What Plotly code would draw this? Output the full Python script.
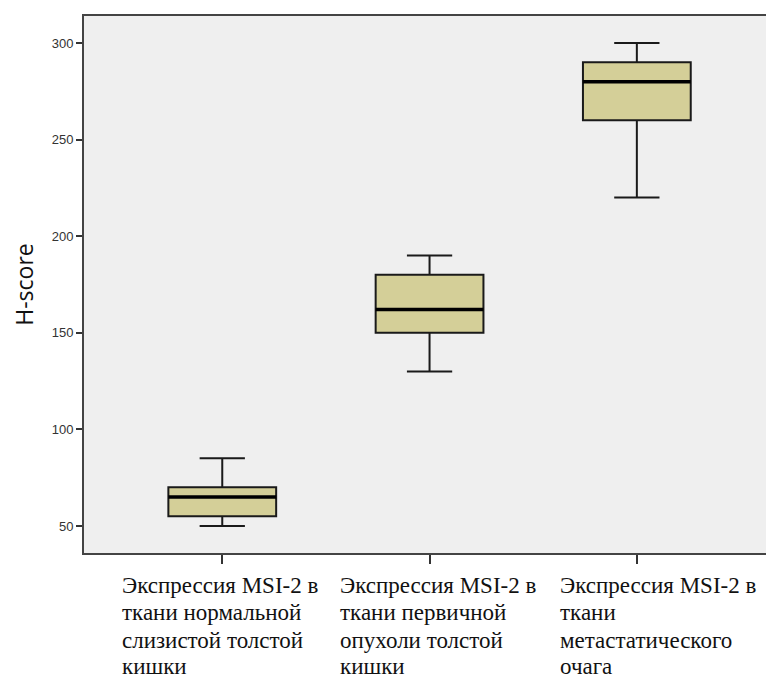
import plotly.graph_objects as go

# Data
categories = [0, 1, 2]
label_lines = [
    ["Экспрессия MSI-2 в", "ткани нормальной", "слизистой толстой", "кишки"],
    ["Экспрессия MSI-2 в", "ткани первичной", "опухоли толстой", "кишки"],
    ["Экспрессия MSI-2 в", "ткани", "метастатического", "очага"],
]
lower_fence = [50, 130, 220]
q1 = [55, 150, 260]
median = [65, 162, 280]
q3 = [70, 180, 290]
upper_fence = [85, 190, 300]
y_ticks = [50, 100, 150, 200, 250, 300]

BOX_W = 0.52
fig = go.Figure()
fig.add_trace(go.Box(
    x=categories, q1=q1, median=median, q3=q3,
    lowerfence=lower_fence, upperfence=upper_fence,
    width=BOX_W, whiskerwidth=0.42,
    fillcolor="#D4CF98",
    line=dict(color="#1a1a1a", width=2),
    boxpoints=False, hoverinfo="skip", showlegend=False,
))
# thicker median lines
for c, m in zip(categories, median):
    fig.add_trace(go.Scatter(
        x=[c - BOX_W / 2, c + BOX_W / 2], y=[m, m], mode="lines",
        line=dict(color="#000000", width=3.5), hoverinfo="skip", showlegend=False,
    ))

# category labels as left-aligned multi-line text
PLOT_BOTTOM, PLOT_H = 545, 537
label_x = [0.052, 0.369, 0.689]
line_tops = [563, 590, 618, 644]
for lx, lines in zip(label_x, label_lines):
    for i, t in enumerate(lines):
        fig.add_annotation(
            text=t, x=lx, xref="paper", xanchor="left",
            y=(PLOT_BOTTOM - line_tops[i]) / PLOT_H, yref="paper", yanchor="top",
            showarrow=False, font=dict(family="Liberation Serif", size=23, color="#111111"),
        )

fig.update_layout(
    width=766, height=670,
    margin=dict(l=76, r=2, t=8, b=125),
    paper_bgcolor="white", plot_bgcolor="#EFEFEF",
    xaxis=dict(
        range=[-0.667, 2.652], tickvals=categories, ticktext=["", "", ""],
        showgrid=False, zeroline=False,
        showline=True, linecolor="#444444", linewidth=2, mirror=True,
        ticks="outside", ticklen=9, tickwidth=2, tickcolor="#333333",
    ),
    yaxis=dict(
        range=[36, 314], tickvals=y_ticks,
        showgrid=False, zeroline=False,
        showline=True, linecolor="#444444", linewidth=2,
        ticks="outside", ticklen=6, tickwidth=2, tickcolor="#333333",
        tickfont=dict(family="Liberation Sans", size=13, color="#333333"),
        title=dict(text="H-score", font=dict(family="Open Sans", size=23, color="#111111"), standoff=19),
    ),
    shapes=[dict(type="line", xref="paper", yref="paper", x0=1, x1=1, y0=0, y1=1,
                 line=dict(color="#CFCFCF", width=1))],
)

fig.write_html("out.html")
